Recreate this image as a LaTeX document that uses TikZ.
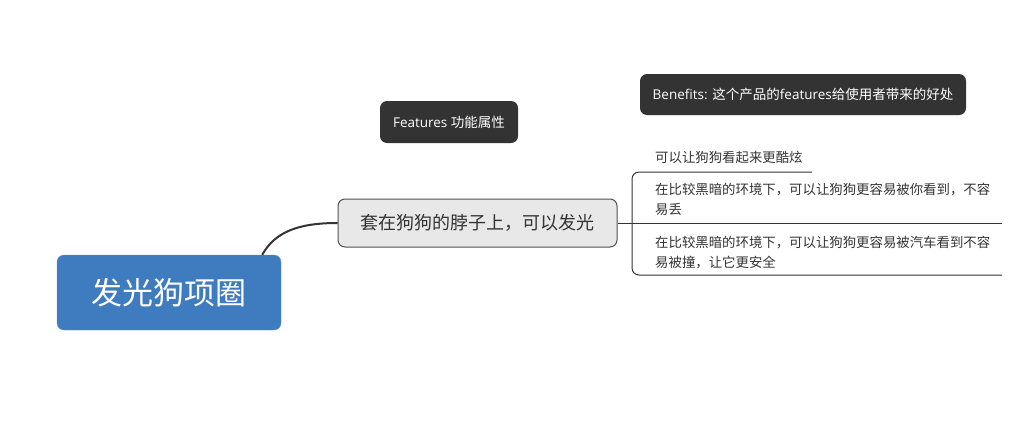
\documentclass[tikz,border=0pt]{standalone}
\usepackage{fontspec}
\setmainfont{Open Sans}
\newfontfamily\cjk{Noto Sans CJK SC}
\usetikzlibrary{positioning}
\definecolor{rootblue}{RGB}{62,123,191}
\definecolor{subgray}{RGB}{232,232,232}
\definecolor{darklabel}{RGB}{51,51,51}
\tikzset{
  rootnode/.style={fill=rootblue,draw=rootblue!80!white,rounded corners=7pt,text=white,
    minimum width=224pt,minimum height=75pt,font=\cjk\fontsize{31}{36}\selectfont},
  subnode/.style={fill=subgray,draw=darklabel!85,line width=1pt,rounded corners=7pt,text=darklabel,
    minimum width=279pt,minimum height=48pt,font=\cjk\fontsize{18}{22}\selectfont},
  tagnode/.style={fill=darklabel,rounded corners=7pt,text=white,inner sep=0pt,
    font=\fontsize{13.5}{16}\selectfont},
  leaf/.style={anchor=west,align=left,inner sep=0pt,text=darklabel,
    font=\cjk\fontsize{13.4}{20}\selectfont},
  branch/.style={draw=darklabel,line width=1pt}
}
\begin{document}
\begin{tikzpicture}[x=1pt,y=-1pt]
  \useasboundingbox (0,0) rectangle (1024,437);
  % main topic and its one branch
  \node[rootnode] (collar) at (169,292.5) {发光狗项圈};
  \node[subnode] (glow) at (477.5,223) {套在狗狗的脖子上，可以发光};
  \draw[branch,line width=2pt] ([xshift=-19pt]collar.north east) .. controls (275,232) and (298,223) .. (glow.west);
  % header tags
  \node[tagnode,minimum width=138pt,minimum height=42pt] (features) at (449,122)
    {Features {\cjk 功能属性}};
  \node[tagnode,minimum width=326pt,minimum height=41pt] (benefits) at (803,94.5)
    {Benefits: {\cjk 这个产品的}features{\cjk 给使用者带来的好处}};
  % benefit leaves
  \node[leaf] (cool) at (655,157) {可以让狗狗看起来更酷炫};
  \node[leaf] (lost) at (655,199) {在比较黑暗的环境下，可以让狗狗更容易被你看到，不容\\易丢};
  \node[leaf] (safe) at (655,252.5) {在比较黑暗的环境下，可以让狗狗更容易被汽车看到不容\\易被撞，让它更安全};
  \coordinate (coolend) at (812,172);
  \coordinate (lostend) at (1002,223);
  \coordinate (safeend) at (1002,275);
  \draw[branch,rounded corners=7pt] (coolend) -- (632,172) -- (632,275) -- (safeend);
  \draw[branch] (glow.east) -- (lostend);
\end{tikzpicture}
\end{document}
